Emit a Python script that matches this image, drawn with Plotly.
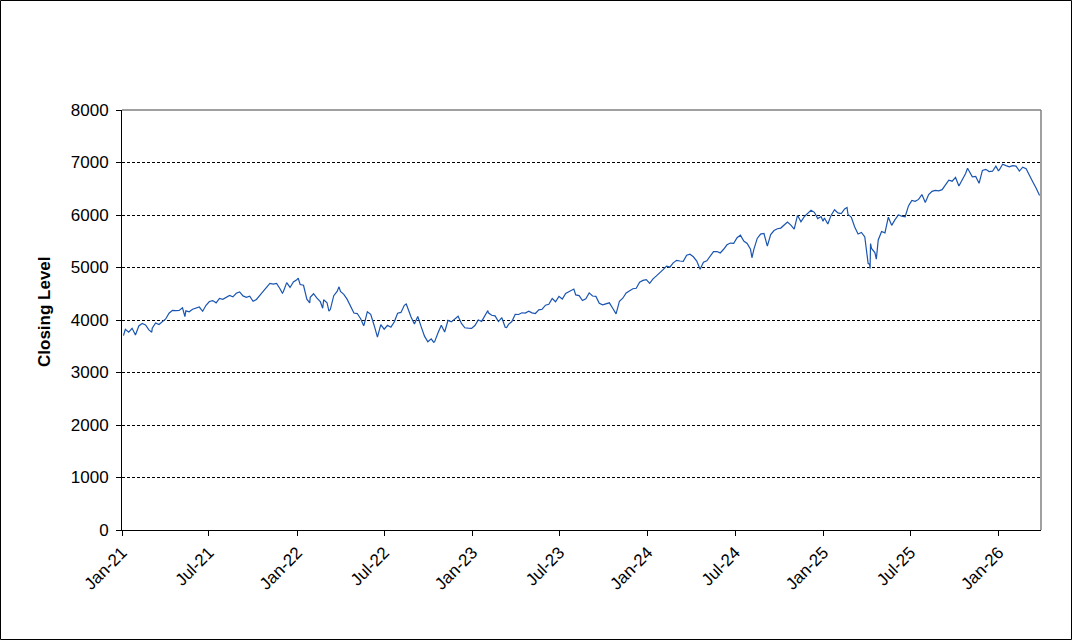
import pandas as pd
import plotly.graph_objects as go

# Weekly (Friday) closing levels
close_2021 = [3824, 3768, 3841, 3714, 3886, 3934, 3906, 3811, 3842, 3943, 3913, 3974, 4020,
              4129, 4185, 4180, 4181, 4233, 4174, 4156, 4204, 4230, 4247, 4166, 4281, 4352,
              4370, 4327, 4412, 4395, 4437, 4468, 4442, 4509, 4535, 4459, 4433, 4455, 4357,
              4391, 4471, 4545, 4605, 4697, 4682, 4698, 4595, 4538, 4712, 4620, 4725, 4766]
close_2022 = [4677, 4662, 4398, 4431, 4500, 4418, 4349, 4385, 4329, 4204, 4463, 4543, 4545,
              4488, 4392, 4272, 4132, 4123, 4024, 3901, 4158, 4109, 3901, 3675, 3912, 3825,
              3899, 3863, 3962, 4130, 4145, 4280, 4228, 4058, 3924, 4067, 3873, 3693, 3586,
              3640, 3583, 3752, 3901, 3771, 3993, 3965, 4026, 4072, 3934, 3852, 3845, 3840]
close_2023 = [3895, 3999, 3973, 4071, 4136, 4090, 4079, 3970, 4045, 3862, 3917, 3971, 4109,
              4105, 4138, 4133, 4169, 4136, 4124, 4192, 4205, 4282, 4299, 4410, 4348, 4450,
              4399, 4505, 4536, 4582, 4478, 4464, 4370, 4406, 4516, 4457, 4450, 4320, 4288,
              4308, 4327, 4224, 4117, 4358, 4415, 4514, 4559, 4595, 4604, 4719, 4755, 4770]
close_2024 = [4697, 4784, 4840, 4891, 4959, 5027, 5006, 5089, 5137, 5124, 5117, 5234, 5254,
              5204, 5123, 4967, 5100, 5128, 5223, 5303, 5305, 5278, 5347, 5432, 5465, 5460,
              5567, 5615, 5505, 5459, 5347, 5344, 5554, 5635, 5648, 5408, 5626, 5703, 5738,
              5751, 5815, 5865, 5808, 5729, 5996, 5871, 5969, 6032, 6090, 6051, 5931, 5971]
close_2025 = [5942, 5827, 5997, 6101, 6041, 6026, 6115, 6013, 5955, 5770, 5639, 5667, 5581,
              5074, 5363, 5283, 5525, 5687, 5660, 5958, 5803, 5912, 6000, 5977, 5967, 6173,
              6279, 6260, 6297, 6389, 6238, 6389, 6450, 6467, 6460, 6482, 6584, 6664, 6644,
              6716, 6553, 6664, 6792, 6840, 6728, 6734, 6603, 6849, 6870, 6827, 6834, 6930]
close_2026 = [6858, 6966, 6940, 6916, 6939, 6932, 6836, 6910, 6880, 6740, 6630, 6510, 6370]

first_fridays = ["2021-01-08", "2022-01-07", "2023-01-06", "2024-01-05", "2025-01-03", "2026-01-02"]

# Additional daily readings (extremes visible on the chart)
extra_dates = ["2021-01-04", "2021-03-04", "2021-05-12", "2021-12-01", "2022-01-03",
               "2022-01-27", "2022-02-23", "2022-03-08", "2022-03-29", "2022-05-19",
               "2022-08-16", "2022-10-12", "2023-02-02", "2023-03-13", "2023-07-31",
               "2024-08-05", "2024-12-31", "2025-02-19", "2025-04-07", "2025-04-08",
               "2025-04-09", "2025-04-21", "2025-10-28", "2025-12-31"]
extra_values = [3701, 3768, 4063, 4513, 4797,
                4327, 4225, 4171, 4632, 3900,
                4305, 3577, 4180, 3855, 4589,
                5186, 5882, 6144, 5062, 4983,
                5457, 5158, 6891, 6845]

tick_dates = ["2021-01-01", "2021-07-01", "2022-01-01", "2022-07-01", "2023-01-01",
              "2023-07-01", "2024-01-01", "2024-07-01", "2025-01-01", "2025-07-01",
              "2026-01-01"]
tick_labels = ["Jan-21", "Jul-21", "Jan-22", "Jul-22", "Jan-23", "Jul-23", "Jan-24",
               "Jul-24", "Jan-25", "Jul-25", "Jan-26"]
y_ticks = [0, 1000, 2000, 3000, 4000, 5000, 6000, 7000, 8000]

frames = []
for start, vals in zip(first_fridays,
                       [close_2021, close_2022, close_2023, close_2024, close_2025, close_2026]):
    d = pd.date_range(start, periods=len(vals), freq="7D")
    frames.append(pd.DataFrame({"date": d, "close": vals}))
frames.append(pd.DataFrame({"date": pd.to_datetime(extra_dates), "close": extra_values}))
df = pd.concat(frames).sort_values("date").drop_duplicates("date", keep="last")

FONT = "Liberation Sans, Arial, sans-serif"
W, H = 1072, 640
L, R, T, B = 122, 31, 110, 110
PW, PH = W - L - R, H - T - B
FS = 17

fig = go.Figure()
fig.add_trace(go.Scatter(x=df["date"], y=df["close"], mode="lines",
                         line=dict(color="#1a55b0", width=1.2), hoverinfo="skip",
                         showlegend=False))

fig.update_layout(
    width=W, height=H,
    margin=dict(l=L, r=R, t=T, b=B, pad=0),
    paper_bgcolor="white", plot_bgcolor="white",
    font=dict(family=FONT, size=FS, color="black"),
    xaxis=dict(type="date", range=["2021-01-01", "2026-03-30"],
               tickvals=tick_dates, ticktext=tick_labels, tickangle=-45,
               ticks="outside", ticklen=5, tickcolor="black", tickwidth=1,
               showline=True, linecolor="black", linewidth=1,
               showgrid=False, zeroline=False,
               tickfont=dict(family=FONT, size=FS, color="black")),
    yaxis=dict(range=[0, 8000], tickvals=y_ticks,
               ticks="outside", ticklen=5, tickcolor="black", tickwidth=1,
               showline=True, linecolor="black", linewidth=1,
               showgrid=True, gridcolor="black", gridwidth=1, griddash="3px,2px",
               zeroline=False, ticklabelstandoff=4,
               tickfont=dict(family=FONT, size=FS, color="black")),
)

# Gray frame on top and right of the plot area
fig.add_shape(type="line", xref="paper", yref="paper", x0=0, x1=1, y0=1, y1=1,
              line=dict(color="#808080", width=1.5))
fig.add_shape(type="line", xref="paper", yref="paper", x0=1, x1=1, y0=0, y1=1,
              line=dict(color="#808080", width=1.5))
# Outer border around the whole chart
fig.add_shape(type="rect", xref="paper", yref="paper",
              x0=(0.5 - L) / PW, x1=(W - 0.5 - L) / PW,
              y0=(T + PH - (H - 0.5)) / PH, y1=(T + PH - 0.5) / PH,
              line=dict(color="black", width=1), fillcolor="rgba(0,0,0,0)")

fig.add_annotation(text="<b>Closing Level</b>", xref="paper", yref="paper",
                   x=(44 - L) / PW, y=(T + PH - 312) / PH, textangle=-90,
                   xanchor="center", yanchor="middle",
                   showarrow=False, font=dict(family=FONT, size=FS, color="black"))

fig.write_html("out.html", config={"displayModeBar": False},
               post_script="document.body.style.margin='0';document.body.style.overflow='hidden';")
